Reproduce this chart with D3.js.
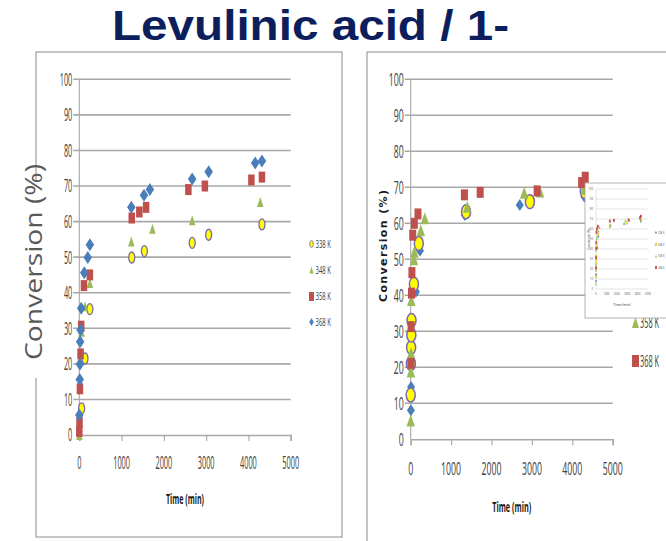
<!DOCTYPE html>
<html>
<head>
<meta charset="utf-8">
<script src="https://cdn.jsdelivr.net/npm/d3@7/dist/d3.min.js"></script>
<style>
  html, body { margin: 0; padding: 0; background: #fff; }
  svg { display: block; }
</style>
</head>
<body>
<svg id="slide" width="666" height="541"></svg>
<script>
// ---- Data: conversion (%) versus time (min) ----
const tickLabelsY = [0, 10, 20, 30, 40, 50, 60, 70, 80, 90, 100];
const tickLabelsX = [0, 1000, 2000, 3000, 4000, 5000];

// Left panel
const leftNames = ["338 K", "348 K", "358 K", "368 K"];
const left338 = [[55, 7.5], [135, 21.5], [250, 35.4], [1240, 49.9], [1540, 51.7], [2670, 54.0], [3060, 56.3], [4320, 59.2]];
const left348 = [[0, 0], [55, 29.0], [135, 36.2], [250, 42.7], [1230, 54.4], [1730, 58.0], [2670, 60.4], [4280, 65.5]];
const left358 = [[0, 1.0], [5, 3.5], [15, 13.0], [30, 22.8], [45, 30.6], [110, 42.0], [250, 45.0], [1240, 61.0], [1420, 62.7], [1580, 64.0], [2580, 69.0], [2970, 70.0], [4070, 71.7], [4320, 72.5]];
const left368 = [[0, 5.6], [10, 15.6], [15, 19.9], [20, 26.2], [30, 29.5], [45, 35.6], [118, 45.6], [200, 49.9], [250, 53.5], [1230, 64.0], [1530, 67.4], [1670, 69.0], [2670, 72.0], [3060, 74.0], [4160, 76.5], [4320, 77.0]];

// Right panel
const rightNames = ["338 K", "348 K", "358 K", "368 K"];
const right338 = [[5, 8.1], [10, 14.5], [130, 41.0], [230, 52.4], [1340, 62.3], [2700, 65.1], [4300, 67.4]];
const right348 = [[0, 12.3], [5, 21.0], [10, 25.5], [15, 29.0], [20, 33.0], [80, 43.1], [200, 54.4], [1370, 63.2], [2950, 66.0], [4310, 68.8]];
const right358 = [[0, 5.2], [5, 18.8], [10, 24.0], [15, 38.7], [80, 50.0], [90, 52.1], [250, 58.1], [350, 61.4], [1400, 64.6], [2810, 68.5], [3200, 68.8], [4300, 69.5]];
const right368 = [[5, 21.1], [10, 31.3], [20, 40.6], [30, 46.3], [50, 56.7], [90, 60.0], [180, 62.6], [1330, 67.9], [1720, 68.6], [3130, 69.0], [4230, 71.3], [4320, 72.8]];

// ---- Styles ----
const COL = { blue: "#4a7ebb", red: "#c0504d", green: "#9bbb59", yellow: "#ffff00", ring: "#7a68b0" };
const GRID = "#a8a8a8";
const FONT = "'Open Sans', 'Liberation Sans', sans-serif";

const svg = d3.select("#slide");

// Marker outline generator (Excel-like, slightly tall markers)
function shapePath(type, w, h) {
  const a = w / 2, b = h / 2;
  switch (type) {
    case "diamond": return `M0,${-b}L${a},0L0,${b}L${-a},0Z`;
    case "square": return `M${-a},${-b}h${w}v${h}h${-w}Z`;
    case "triangle": return `M0,${-b}L${a},${b}L${-a},${b}Z`;
    default: return `M${-a},0A${a},${b} 0 1,0 ${a},0A${a},${b} 0 1,0 ${-a},0Z`;
  }
}
function styleMarker(sel, type, sw) {
  const fill = { diamond: COL.blue, square: COL.red, triangle: COL.green, circle: COL.yellow }[type];
  sel.attr("fill", fill);
  if (type === "circle") sel.attr("stroke", COL.ring).attr("stroke-width", sw);
}

// Narrow text: fixed advance per glyph
function narrow(sel, perChar) {
  sel.each(function () {
    const t = d3.select(this);
    const n = t.text().length;
    t.attr("textLength", n * perChar).attr("lengthAdjust", "spacingAndGlyphs");
  });
}

// Text squeezed horizontally to a target width (scaled group)
function squeezedText(parent, x, y, str, size, width, fill) {
  const g = parent.append("g");
  const t = g.append("text").attr("x", 0).attr("y", 0).attr("dy", "0.36em")
    .attr("font-family", FONT).attr("font-size", size).attr("fill", fill).text(str);
  const w = t.node().getComputedTextLength() || width;
  g.attr("transform", `translate(${x},${y}) scale(${width / w},1)`);
  return g;
}

// ---- Title ----
svg.append("text")
  .attr("x", 112).attr("y", 40)
  .attr("font-family", "'Liberation Sans', Arial, sans-serif")
  .attr("font-weight", "bold").attr("font-size", 42)
  .attr("fill", "#0c1e5c")
  .attr("textLength", 397).attr("lengthAdjust", "spacingAndGlyphs")
  .text("Levulinic acid / 1-");

// ---- Frames ----
svg.append("rect").attr("x", 36).attr("y", 52).attr("width", 306).attr("height", 485)
  .attr("fill", "none").attr("stroke", "#8c8c8c").attr("stroke-width", 1);
svg.append("rect").attr("x", 367).attr("y", 52).attr("width", 320).attr("height", 520)
  .attr("fill", "none").attr("stroke", "#8c8c8c").attr("stroke-width", 1);

// ---- Generic panel ----
function panel(cfg) {
  const g = svg.append("g");
  const x = d3.scaleLinear().domain([0, 5000]).range(cfg.xr);
  const y = d3.scaleLinear().domain([0, 100]).range(cfg.yr);

  // horizontal gridlines
  g.append("g").selectAll("line").data(tickLabelsY.filter(d => d > 0)).join("line")
    .attr("x1", x(0) - cfg.tick).attr("x2", x(5000))
    .attr("y1", d => y(d)).attr("y2", d => y(d))
    .attr("stroke", GRID).attr("stroke-width", cfg.gw);

  // x axis with downward ticks
  const xa = g.append("g").attr("transform", `translate(0,${y(0)})`)
    .call(d3.axisBottom(x).tickValues(tickLabelsX).tickSize(cfg.tick).tickFormat(""));
  xa.select(".domain").attr("stroke", GRID).attr("stroke-width", cfg.gw);
  xa.selectAll(".tick line").attr("stroke", GRID).attr("stroke-width", cfg.gw * 0.7);
  // y axis line
  g.append("line").attr("x1", x(0)).attr("x2", x(0)).attr("y1", y(0)).attr("y2", y(100))
    .attr("stroke", GRID).attr("stroke-width", cfg.gw * 0.7);

  // tick labels
  g.append("g").selectAll("text").data(tickLabelsY).join("text")
    .attr("x", x(0) - cfg.ylabGap).attr("y", d => y(d)).attr("dy", "0.36em")
    .attr("text-anchor", "end").attr("font-family", FONT).attr("font-size", cfg.tfs)
    .attr("fill", "#404040").text(d => d)
    .call(narrow, cfg.charW);
  g.append("g").selectAll("text").data(tickLabelsX).join("text")
    .attr("x", d => x(d)).attr("y", cfg.xlabY).attr("dy", "0.36em")
    .attr("text-anchor", "middle").attr("font-family", FONT).attr("font-size", cfg.tfs)
    .attr("fill", "#404040").text(d => d)
    .call(narrow, cfg.charW);

  // axis title
  g.append("text").attr("x", (x(0) + x(5000)) / 2).attr("y", cfg.xtitleY).attr("dy", "0.36em")
    .attr("text-anchor", "middle").attr("font-family", FONT).attr("font-weight", "bold")
    .attr("font-size", cfg.xtfs).attr("fill", "#1a1a1a")
    .attr("textLength", cfg.xtitleW).attr("lengthAdjust", "spacingAndGlyphs")
    .text("Time (min)");

  // markers
  cfg.series.forEach(s => {
    g.append("g").selectAll("path").data(s.data).join("path")
      .attr("d", shapePath(s.type, s.w, s.h))
      .attr("transform", d => `translate(${x(d[0])},${y(d[1])})`)
      .call(styleMarker, s.type, s.sw || 1);
  });

  // legend (entries with a position only; others sit under the inset)
  const lg = g.append("g");
  cfg.legend.forEach((e, i) => {
    const ly = cfg.legY[i];
    if (ly == null) return;
    lg.append("path").attr("d", shapePath(e.type, e.w, e.h))
      .attr("transform", `translate(${cfg.legX},${ly})`).call(styleMarker, e.type, 0.8);
    squeezedText(lg, cfg.legX + cfg.legGap, ly, e.name, cfg.lfs, cfg.legW, "#404040");
  });
  return { x, y };
}

// ---- Left panel ----
panel({
  xr: [79.3, 290.7], yr: [435, 79.3], tick: 6, gw: 1.6,
  ylabGap: 7, xlabY: 463, tfs: 18, charW: 4.2,
  xtitleY: 499, xtfs: 14, xtitleW: 38,
  series: [
    { data: left338, type: "circle", w: 6, h: 11, sw: 1.3 },
    { data: left348, type: "triangle", w: 6.5, h: 10 },
    { data: left358, type: "square", w: 6.5, h: 11 },
    { data: left368, type: "diamond", w: 8.5, h: 13 }
  ],
  legend: [
    { name: leftNames[0], type: "circle", w: 3.5, h: 7 },
    { name: leftNames[1], type: "triangle", w: 4, h: 7 },
    { name: leftNames[2], type: "square", w: 5, h: 9 },
    { name: leftNames[3], type: "diamond", w: 4.5, h: 8 }
  ],
  legX: 311.5, legY: [244, 270, 296.5, 322], legGap: 4, lfs: 10, legW: 15.5
});

// Left y title, sitting over the frame edge
svg.append("rect").attr("x", 22).attr("y", 182).attr("width", 24).attr("height", 196).attr("fill", "#fff");
svg.append("text")
  .attr("transform", "translate(42,262) rotate(-90)")
  .attr("text-anchor", "middle").attr("font-family", FONT).attr("font-size", 24)
  .attr("fill", "#595959").attr("textLength", 196).attr("lengthAdjust", "spacingAndGlyphs")
  .text("Conversion (%)");

// ---- Right panel ----
panel({
  xr: [410.7, 612.7], yr: [439.3, 79.3], tick: 6, gw: 1.6,
  ylabGap: 7, xlabY: 469, tfs: 18, charW: 5,
  xtitleY: 507, xtfs: 15, xtitleW: 39,
  series: [
    { data: right338, type: "diamond", w: 8, h: 12 },
    { data: right348, type: "circle", w: 9, h: 14, sw: 1.5 },
    { data: right358, type: "triangle", w: 8.5, h: 12 },
    { data: right368, type: "square", w: 7, h: 11 }
  ],
  legend: [
    { name: rightNames[0], type: "diamond", w: 6, h: 11 },
    { name: rightNames[1], type: "circle", w: 7, h: 12 },
    { name: rightNames[2], type: "triangle", w: 7, h: 11 },
    { name: rightNames[3], type: "square", w: 7, h: 12 }
  ],
  legX: 635.5, legY: [null, null, 322.5, 361], legGap: 4.5, lfs: 16, legW: 19
});

// Right y title
svg.append("text")
  .attr("transform", "translate(387,246) rotate(-90)")
  .attr("text-anchor", "middle").attr("font-family", "'DejaVu Sans', sans-serif")
  .attr("font-weight", "bold").attr("font-size", 11)
  .attr("fill", "#1a1a1a").attr("textLength", 112).attr("lengthAdjust", "spacing")
  .text("Conversion (%)");

// ---- Small inset copy of the right panel ----
(function inset() {
  const g = svg.append("g");
  g.append("rect").attr("x", 585).attr("y", 183).attr("width", 95).attr("height", 135)
    .attr("fill", "#fff").attr("stroke", "#a0a0a0").attr("stroke-width", 0.8);
  const x = d3.scaleLinear().domain([0, 5000]).range([596, 648]);
  const y = d3.scaleLinear().domain([0, 100]).range([289, 189]);
  g.selectAll("line.ig").data(tickLabelsY).join("line").attr("class", "ig")
    .attr("x1", x(0)).attr("x2", x(5000)).attr("y1", d => y(d)).attr("y2", d => y(d))
    .attr("stroke", "#c8c8c8").attr("stroke-width", 0.5);
  g.append("line").attr("x1", x(0)).attr("x2", x(0)).attr("y1", y(0)).attr("y2", y(100))
    .attr("stroke", "#c8c8c8").attr("stroke-width", 0.5);
  g.selectAll("text.iy").data(tickLabelsY).join("text").attr("class", "iy")
    .attr("x", x(0) - 3).attr("y", d => y(d)).attr("dy", "0.35em").attr("text-anchor", "end")
    .attr("font-family", FONT).attr("font-size", 2.8).attr("fill", "#555").text(d => d);
  g.selectAll("text.ix").data(tickLabelsX).join("text").attr("class", "ix")
    .attr("x", d => x(d)).attr("y", 295).attr("text-anchor", "middle")
    .attr("font-family", FONT).attr("font-size", 2.6).attr("fill", "#555").text(d => d);
  g.append("text").attr("x", (x(0) + x(5000)) / 2).attr("y", 306).attr("text-anchor", "middle")
    .attr("font-family", FONT).attr("font-size", 3.5).attr("fill", "#333").text("Time (min)");
  g.append("text").attr("transform", "translate(590,239) rotate(-90)").attr("text-anchor", "middle")
    .attr("font-family", FONT).attr("font-size", 3).attr("fill", "#333").text("Conversion (%)");
  const ser = [[right338, "diamond"], [right348, "circle"], [right358, "triangle"], [right368, "square"]];
  ser.forEach(([data, type]) => {
    g.append("g").selectAll("path").data(data).join("path")
      .attr("d", shapePath(type, 1.8, 3))
      .attr("transform", d => `translate(${x(d[0])},${y(d[1])})`)
      .call(styleMarker, type, 0.3);
  });
  rightNames.forEach((n, i) => {
    const ly = [232.5, 244.5, 256, 267.5][i];
    g.append("path").attr("d", shapePath(ser[i][1], 1.8, 3))
      .attr("transform", `translate(656,${ly})`).call(styleMarker, ser[i][1], 0.3);
    squeezedText(g, 658, ly, n, 3, 6.5, "#555");
  });
})();
</script>
</body>
</html>
